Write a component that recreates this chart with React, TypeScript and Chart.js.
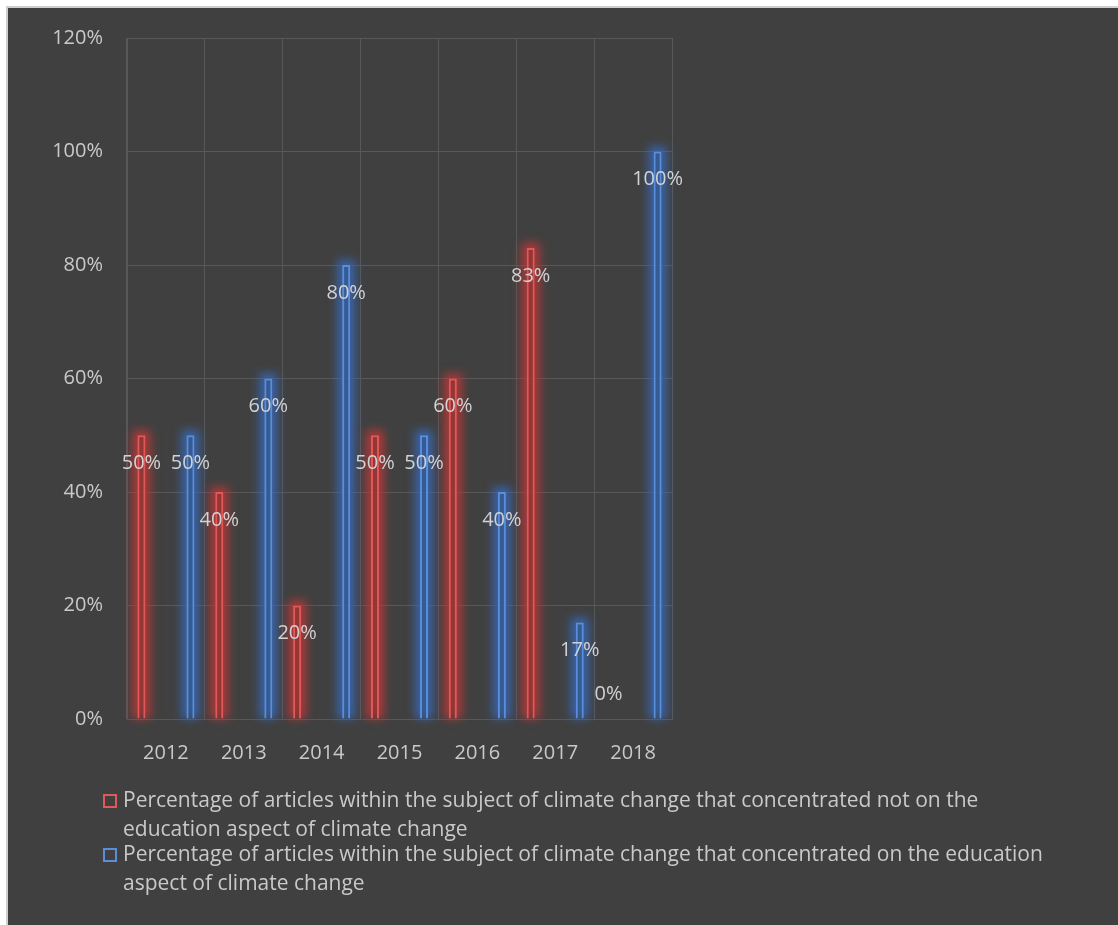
import React, { useEffect, useRef } from "react";
import { Chart, registerables } from "chart.js";

Chart.register(...registerables);

const years = ["2012", "2013", "2014", "2015", "2016", "2017", "2018"];
const notEducationPct = [50, 40, 20, 50, 60, 83, 0];
const educationPct = [50, 60, 80, 50, 40, 17, 100];
const yMax = 120;
const yStep = 20;

const seriesNames = [
  ["Percentage of articles within the subject of climate change that concentrated not on the", "education aspect of climate change"],
  ["Percentage of articles within the subject of climate change that concentrated on the education", "aspect of climate change"],
];

const RED = "#e05858";
const BLUE = "#5a8ed8";
const RED_GLOW = "rgba(190,55,55,0.85)";
const BLUE_GLOW = "rgba(55,105,185,0.85)";
const TEXT = "#c9c9c9";
const GRID = "#585858";
const FONT = '"Open Sans", "Noto Sans", sans-serif';

const glowPlugin = {
  id: "glow",
  beforeDatasetsDraw(chart: any) {
    const ctx = chart.ctx;
    chart.data.datasets.forEach((ds: any, i: number) => {
      const meta = chart.getDatasetMeta(i);
      meta.data.forEach((el: any, j: number) => {
        if (!ds.data[j]) return;
        const { x, y, base, width } = el.getProps(["x", "y", "base", "width"], true);
        ctx.save();
        ctx.filter = "blur(5px)";
        ctx.fillStyle = ds.glowColor;
        ctx.fillRect(x - width / 2 - 5, y - 5, width + 10, base - y + 5);
        ctx.restore();
      });
    });
  },
};

const labelPlugin = {
  id: "valueLabels",
  afterDatasetsDraw(chart: any) {
    const ctx = chart.ctx;
    ctx.save();
    ctx.font = `20px ${FONT}`;
    ctx.fillStyle = "#d2d2d2";
    ctx.textAlign = "center";
    ctx.textBaseline = "middle";
    chart.data.datasets.forEach((ds: any, i: number) => {
      const meta = chart.getDatasetMeta(i);
      meta.data.forEach((el: any, j: number) => {
        const v = ds.data[j];
        const { x, y, base } = el.getProps(["x", "y", "base"], true);
        const ty = v === 0 ? base - 25 : y + 28;
        ctx.fillText(`${v}%`, x, ty);
      });
    });
    ctx.restore();
  },
};

export default function App() {
  const ref = useRef<HTMLCanvasElement | null>(null);

  useEffect(() => {
    if (!ref.current) return;
    const chart = new Chart(ref.current, {
      type: "bar",
      data: {
        labels: years,
        datasets: [
          {
            label: seriesNames[0].join(" "),
            data: notEducationPct,
            borderColor: RED,
            backgroundColor: "rgba(110,50,50,0.35)",
            borderWidth: (c: any) => (c.raw === 0 ? 0 : 2),
            glowColor: RED_GLOW,
          } as any,
          {
            label: seriesNames[1].join(" "),
            data: educationPct,
            borderColor: BLUE,
            backgroundColor: "rgba(50,80,120,0.35)",
            borderWidth: (c: any) => (c.raw === 0 ? 0 : 2),
            glowColor: BLUE_GLOW,
          } as any,
        ],
      },
      options: {
        animation: false,
        responsive: false,
        categoryPercentage: 1.26,
        barPercentage: 0.163,
        layout: { padding: { left: 0, top: 38, right: 446, bottom: 156 } },
        plugins: {
          legend: { display: false },
          tooltip: { enabled: false },
        },
        scales: {
          x: {
            grid: { color: GRID, offset: true, drawTicks: false },
            border: { color: GRID },
            ticks: { color: TEXT, font: { family: FONT, size: 20 }, padding: 22 },
            afterFit: (s: any) => {
              s.height = 50;
            },
          },
          y: {
            min: 0,
            max: yMax,
            grid: { color: GRID, drawTicks: false },
            border: { color: GRID },
            ticks: {
              stepSize: yStep,
              color: TEXT,
              font: { family: FONT, size: 20 },
              padding: 24,
              callback: (v: any) => `${v}%`,
            },
            afterFit: (s: any) => {
              s.width = 127;
            },
          },
        },
      } as any,
      plugins: [glowPlugin, labelPlugin],
    });
    return () => chart.destroy();
  }, []);

  const legendColors = [RED, BLUE];
  const legendTops = [785, 839];

  return (
    <div style={{ position: "fixed", left: 0, top: 0, width: 1118, height: 925, overflow: "hidden", background: "#fff" }}>
      <div
        style={{
          position: "absolute",
          left: 6,
          top: 6,
          width: 1112,
          height: 919,
          background: "#404040",
          borderTop: "2px solid #cfcfcf",
          borderLeft: "2px solid #cfcfcf",
          boxSizing: "border-box",
        }}
      />
      <canvas ref={ref} width={1118} height={925} style={{ position: "absolute", left: 0, top: 0, width: 1118, height: 925 }} />
      {seriesNames.map((lines, i) => (
        <React.Fragment key={i}>
          <div
            style={{
              position: "absolute",
              left: 103,
              top: legendTops[i] + 9,
              width: 14,
              height: 14,
              boxSizing: "border-box",
              border: `2px solid ${legendColors[i]}`,
            }}
          />
          <div
            style={{
              position: "absolute",
              left: 123,
              top: legendTops[i],
              fontFamily: FONT,
              fontSize: 21,
              lineHeight: "29px",
              color: TEXT,
              whiteSpace: "nowrap",
            }}
          >
            {lines[0]}
            <br />
            {lines[1]}
          </div>
        </React.Fragment>
      ))}
    </div>
  );
}
